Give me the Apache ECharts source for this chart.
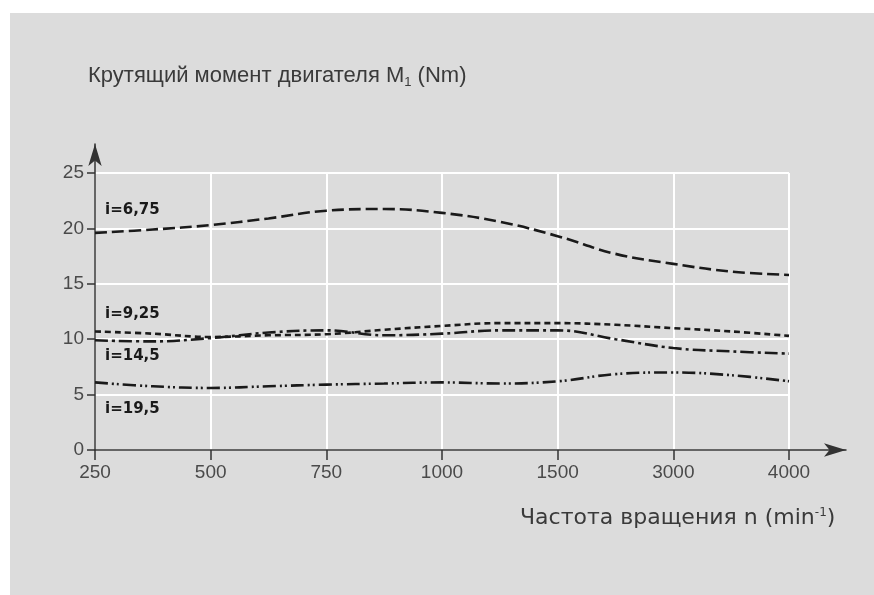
<!DOCTYPE html>
<html><head><meta charset="utf-8">
<script src="https://cdn.jsdelivr.net/npm/echarts@6/dist/echarts.min.js"></script>
<style>html,body{margin:0;padding:0;background:#fff}#c{width:874px;height:595px}</style>
</head><body><div id="c"></div>
<script>
const tickLabels = ['250','500','750','1000','1500','3000','4000'];
const xPos = [0,0.5,1,1.5,2,2.5,3,3.5,4,4.5,5,5.5,6];
const s675 = [19.6,19.9,20.3,20.9,21.6,21.75,21.4,20.6,19.3,17.7,16.8,16.1,15.8];
const s925 = [10.7,10.5,10.2,10.35,10.45,10.85,11.2,11.45,11.45,11.3,11.0,10.7,10.3];
const s145 = [9.9,9.8,10.1,10.6,10.8,10.35,10.5,10.8,10.8,10.0,9.2,8.9,8.7];
const s195 = [6.1,5.75,5.6,5.75,5.9,6.0,6.1,6.0,6.2,6.85,7.0,6.75,6.2];
const seriesNames = ['i=6,75','i=9,25','i=14,5','i=19,5'];
const yTitle = 'Крутящий момент двигателя M';
const xTitle = 'Частота вращения n (min';

const chart = echarts.init(document.getElementById('c'));
const zip = ys => xPos.map((x,i)=>[x, ys[i]]);
const ink = '#1a1a1a';
const mk = (name, ys, dash) => ({
  name, type:'line', xAxisIndex:0, yAxisIndex:0, data: zip(ys), smooth:0.4,
  symbol:'none', lineStyle:{color:ink, width:2.6, type:dash}, z:5
});
const lbl = (text, y) => ({type:'text', left:105, top:y-9, z:10,
  style:{text, font:'bold 15px "DejaVu Sans"', fill:ink}});
chart.setOption({
  backgroundColor:'#ffffff',
  animation:false,
  graphic:[
    {type:'rect', shape:{x:10, y:13, width:864, height:582}, style:{fill:'#dcdcdc'}, z:-10},
    {type:'text', left:88, top:65, style:{
      text:'{a|'+yTitle+'}{s|1}{a| (Nm)}',
      rich:{a:{fontSize:22, fontFamily:'Liberation Sans', fill:'#3a3a3a'}, s:{fontSize:13, fontFamily:'Liberation Sans', fill:'#3a3a3a', padding:[12,0,0,0]}}
    }},
    {type:'text', left:520, top:507, style:{
      text:'{a|'+xTitle+'}{s|-1}{a|)}',
      rich:{a:{fontSize:22, fontFamily:'DejaVu Sans', fill:'#3a3a3a'}, s:{fontSize:12, fontFamily:'DejaVu Sans', fill:'#3a3a3a', padding:[0,0,11,0]}}
    }},
    lbl(seriesNames[0], 212), lbl(seriesNames[1], 316), lbl(seriesNames[2], 358), lbl(seriesNames[3], 411)
  ],
  grid:[
    {left:95, top:173, width:694, height:277},
    {left:95, top:144, right:28, bottom:145}
  ],
  xAxis:[
    {type:'value', gridIndex:0, min:0, max:6, interval:1,
     axisLine:{show:false},
     axisTick:{show:true, length:10, lineStyle:{color:'#333', width:1.5}},
     axisLabel:{margin:13, fontSize:19, fontFamily:'Liberation Sans', color:'#4a4a4a', formatter:v=>tickLabels[Math.round(v)]},
     splitLine:{show:true, lineStyle:{color:'#ffffff', width:2}}},
    {type:'value', gridIndex:1, min:0, max:1, show:true,
     axisLine:{show:true, symbol:['none','arrow'], symbolSize:[10,22], lineStyle:{color:'#333', width:1.5}},
     axisTick:{show:false}, axisLabel:{show:false}, splitLine:{show:false}}
  ],
  yAxis:[
    {type:'value', gridIndex:0, min:0, max:25, interval:5,
     axisLine:{show:false},
     axisTick:{show:true, length:8, lineStyle:{color:'#333', width:1.5}},
     axisLabel:{margin:11, fontSize:19, fontFamily:'Liberation Sans', color:'#4a4a4a'},
     splitLine:{show:true, lineStyle:{color:'#ffffff', width:2}}},
    {type:'value', gridIndex:1, min:0, max:1, show:true,
     axisLine:{show:true, symbol:['none','arrow'], symbolSize:[10,22], lineStyle:{color:'#333', width:1.5}},
     axisTick:{show:false}, axisLabel:{show:false}, splitLine:{show:false}}
  ],
  series:[
    mk(seriesNames[0], s675, [12,5]),
    mk(seriesNames[1], s925, [6,4]),
    mk(seriesNames[2], s145, [13,4,3,4]),
    mk(seriesNames[3], s195, [13,4,2,3,2,4])
  ]
});
</script></body></html>
